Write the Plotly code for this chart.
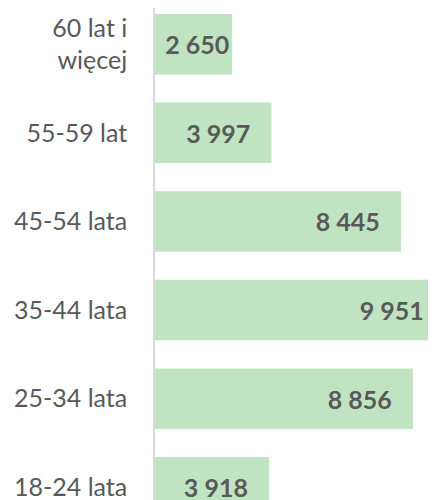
import plotly.graph_objects as go

categories = ["18-24 lata", "25-34 lata", "35-44 lata", "45-54 lata", "55-59 lat", "60 lat i<br>więcej"]
values = [3918, 8856, 9951, 8445, 3997, 2650]

# value labels: space thousands separator, end padding on bars long enough
def fmt(v):
    s = f"{v:,}".replace(",", " ")
    return s + ("\u00a0" * 3 if v > 3000 else "")

labels = [fmt(v) for v in values]

fig = go.Figure(go.Bar(
    y=categories,
    x=values,
    orientation="h",
    marker=dict(color="#C0E4C1", line=dict(width=0)),
    width=0.683,
    text=labels,
    textposition="inside",
    insidetextanchor="end",
    constraintext="none",
    textangle=0,
    textfont=dict(family="Lato", size=25, color="#595959", weight="bold"),
    cliponaxis=True,
    hoverinfo="skip",
))

fig.update_layout(
    width=428,
    height=492,
    margin=dict(l=147, r=0, t=0, b=0),
    plot_bgcolor="white",
    paper_bgcolor="white",
    showlegend=False,
    xaxis=dict(visible=False, range=[0, 9644], showgrid=False, zeroline=False),
    yaxis=dict(
        type="category",
        range=[-0.144, 5.409],
        showgrid=False,
        zeroline=False,
        showline=True,
        linecolor="#D9D9D9",
        linewidth=1.5,
        ticks="",
        ticklabelstandoff=21,
        tickfont=dict(family="Lato", size=25, color="#595959"),
    ),
)

fig.write_html("out.html")
